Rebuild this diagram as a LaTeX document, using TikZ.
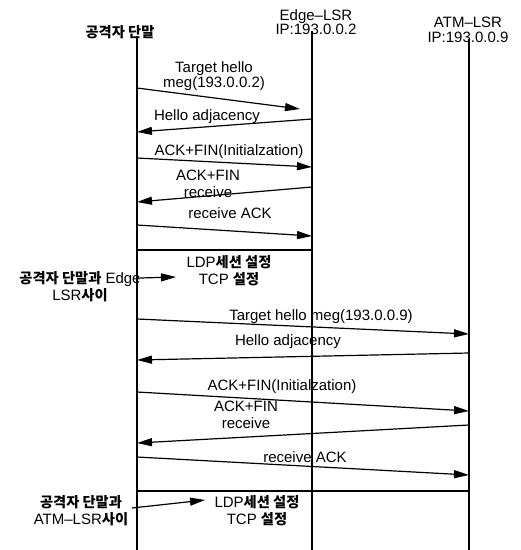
\documentclass[tikz,border=0pt]{standalone}
\usepackage{fontspec}
\setmainfont{Liberation Sans}
\newfontfamily\krfont{Noto Sans CJK KR}[Scale=0.95]
\newcommand{\kor}[1]{{\krfont\bfseries #1}}
\usetikzlibrary{arrows.meta}

\begin{document}
\begin{tikzpicture}[
  x=1pt, y=-1pt,
  font=\fontsize{15}{13}\selectfont,
  life/.style={line width=1.4pt},
  msg/.style={-{Triangle[length=15pt,width=8pt]}, line width=1.2pt},
  lbl/.style={align=center, inner sep=0pt},
  head/.style={align=center, inner sep=0pt, font=\fontsize{15}{14.5}\selectfont},
  side/.style={align=center, inner sep=0pt, font=\fontsize{15}{17}\selectfont}
]
\useasboundingbox (0,0) rectangle (521,550);

% heads
\node[lbl] (atk) at (120,32) {\kor{공격자 단말}};
\node[head] (edge) at (316,22) {Edge\textendash LSR\\IP:193.0.0.2};
\node[head] (atm) at (468,30) {ATM\textendash LSR\\IP:193.0.0.9};

% lifelines
\coordinate (atk top) at (137,36);
\coordinate (atk bot) at (137,550);
\coordinate (edge top) at (312,31);
\coordinate (edge bot) at (312,550);
\coordinate (atm top) at (469,39);
\coordinate (atm bot) at (469,550);
\draw[life] (atk top) -- (atk bot);
\draw[life] (edge top) -- (edge bot);
\draw[life] (atm top) -- (atm bot);

% message labels
\node[lbl] (t1) at (214,76) {Target hello\\meg(193.0.0.2)};
\node[lbl] (a1) at (207,117) {Hello adjacency};
\node[lbl] (i1) at (229,152) {ACK+FIN(Initialzation)};
\node[side] (f1) at (208,184) {ACK+FIN\\receive};
\node[lbl] (r1) at (230,213) {receive ACK};
\node[side] (s1) at (229,271) {LDP\kor{세션 설정}\\TCP \kor{설정}};
\node[side] (sl1) at (80,287) {\kor{공격자 단말과} Edge\\LSR\kor{사이}};

\node[lbl] (t2) at (321,317) {Target hello meg(193.0.0.9)};
\node[lbl] (a2) at (288,342) {Hello adjacency};
\node[lbl] (i2) at (282,387) {ACK+FIN(Initialzation)};
\node[side] (f2) at (246,415) {ACK+FIN\\receive};
\node[lbl] (r2) at (305,457) {receive ACK};
\node[side] (s2) at (257,511) {LDP\kor{세션 설정}\\TCP \kor{설정}};
\node[side] (sl2) at (81,511) {\kor{공격자 단말과}\\ATM\textendash LSR\kor{사이}};

% messages
\foreach \n/\xa/\ya/\xb/\yb in {
  1/137/88/300/109, 2/312/119/137/132, 3/137/158/312/167,
  4/312/187/137/202, 5/137/225/312/236,
  6/137/319/469/334, 7/469/353/137/360, 8/137/392/469/411,
  9/469/425/137/443, 10/137/457/469/475} {
  \coordinate (m\n s) at (\xa,\ya);
  \coordinate (m\n e) at (\xb,\yb);
  \draw[msg] (m\n s) -- (m\n e);
}

% session setup
\coordinate (sep1 a) at (137,250);
\coordinate (sep1 b) at (312,250);
\coordinate (sep2 a) at (137,491);
\coordinate (sep2 b) at (469,491);
\draw[life] (sep1 a) -- (sep1 b);
\draw[life] (sep2 a) -- (sep2 b);

\coordinate (p1 s) at (140,278);
\coordinate (p1 e) at (176,277);
\coordinate (p2 s) at (132,508);
\coordinate (p2 e) at (205,500);
\draw[msg] (p1 s) -- (p1 e);
\draw[msg] (p2 s) -- (p2 e);

\end{tikzpicture}
\end{document}
